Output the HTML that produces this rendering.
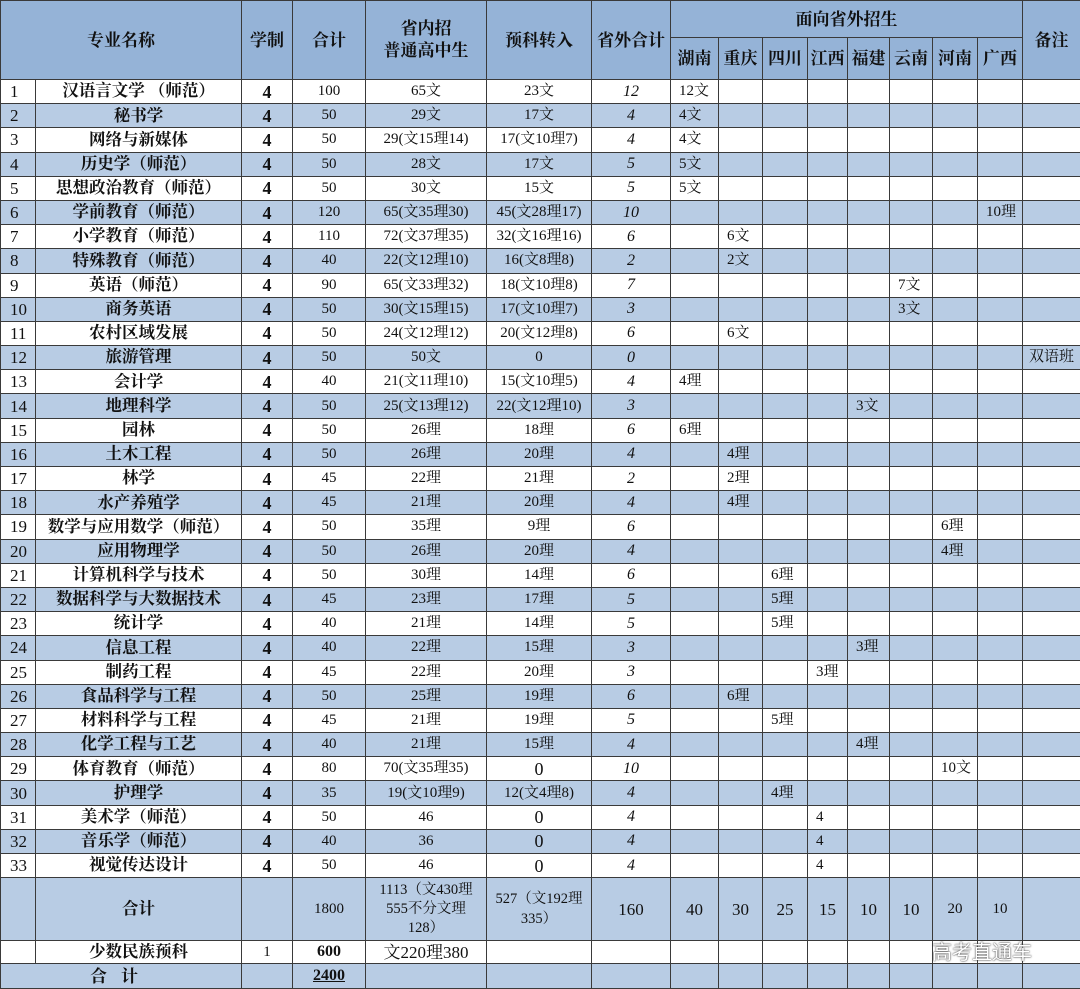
<!DOCTYPE html>
<html><head><meta charset="utf-8"><style>
html,body{margin:0;padding:0;background:#fff;}
body{width:1080px;height:988px;overflow:hidden;position:relative;font-family:"Liberation Serif","Noto Serif CJK SC",serif;}
table{border-collapse:collapse;table-layout:fixed;position:absolute;left:0;top:0;width:1080px;}
td{border:1px solid #3a3a3a;padding:0;font-size:15px;text-align:center;white-space:nowrap;overflow:hidden;color:#111;line-height:1;}
tr.h td{background:#95b3d7;font-weight:bold;font-size:17px;}
tr.b td{background:#b8cce4;}
tr.r{height:24.2px;}
td.n{font-weight:bold;font-size:16.5px;}
td.x{font-weight:bold;font-size:18px;}
td.i{font-style:italic;font-size:16px;}
td.l{text-align:left;padding-left:8px;}
td.k{text-align:left;padding-left:9px;font-size:17px;}
.wm{position:absolute;left:932px;top:936px;font-family:"Liberation Sans","Noto Sans CJK SC",sans-serif;font-size:20px;color:#fff;text-shadow:0 0 2px #555,0 0 1px #333;}
</style></head><body>
<table>
<colgroup>
<col style="width:35px"><col style="width:206px"><col style="width:51px"><col style="width:73px"><col style="width:121px"><col style="width:105px"><col style="width:79px"><col style="width:48px"><col style="width:44px"><col style="width:45px"><col style="width:40px"><col style="width:42px"><col style="width:43px"><col style="width:45px"><col style="width:45px"><col style="width:58px">
</colgroup>
<tr class="h" style="height:37px"><td colspan="2" rowspan="2">专业名称</td><td rowspan="2">学制</td><td rowspan="2">合计</td><td rowspan="2" style="line-height:1.3">省内招<br>普通高中生</td><td rowspan="2">预科转入</td><td rowspan="2">省外合计</td><td colspan="8">面向省外招生</td><td rowspan="2">备注</td></tr>
<tr class="h" style="height:42px"><td>湖南</td><td>重庆</td><td>四川</td><td>江西</td><td>福建</td><td>云南</td><td>河南</td><td>广西</td></tr>
<tr class="r"><td class="k">1</td><td class="n">汉语言文学 （师范）</td><td class="x">4</td><td>100</td><td>65文</td><td>23文</td><td class="i">12</td><td class="l">12文</td><td></td><td></td><td></td><td></td><td></td><td></td><td></td><td></td></tr>
<tr class="r b"><td class="k">2</td><td class="n">秘书学</td><td class="x">4</td><td>50</td><td>29文</td><td>17文</td><td class="i">4</td><td class="l">4文</td><td></td><td></td><td></td><td></td><td></td><td></td><td></td><td></td></tr>
<tr class="r"><td class="k">3</td><td class="n">网络与新媒体</td><td class="x">4</td><td>50</td><td>29(文15理14)</td><td>17(文10理7)</td><td class="i">4</td><td class="l">4文</td><td></td><td></td><td></td><td></td><td></td><td></td><td></td><td></td></tr>
<tr class="r b"><td class="k">4</td><td class="n">历史学（师范）</td><td class="x">4</td><td>50</td><td>28文</td><td>17文</td><td class="i">5</td><td class="l">5文</td><td></td><td></td><td></td><td></td><td></td><td></td><td></td><td></td></tr>
<tr class="r"><td class="k">5</td><td class="n">思想政治教育（师范）</td><td class="x">4</td><td>50</td><td>30文</td><td>15文</td><td class="i">5</td><td class="l">5文</td><td></td><td></td><td></td><td></td><td></td><td></td><td></td><td></td></tr>
<tr class="r b"><td class="k">6</td><td class="n">学前教育（师范）</td><td class="x">4</td><td>120</td><td>65(文35理30)</td><td>45(文28理17)</td><td class="i">10</td><td></td><td></td><td></td><td></td><td></td><td></td><td></td><td class="l">10理</td><td></td></tr>
<tr class="r"><td class="k">7</td><td class="n">小学教育（师范）</td><td class="x">4</td><td>110</td><td>72(文37理35)</td><td>32(文16理16)</td><td class="i">6</td><td></td><td class="l">6文</td><td></td><td></td><td></td><td></td><td></td><td></td><td></td></tr>
<tr class="r b"><td class="k">8</td><td class="n">特殊教育（师范）</td><td class="x">4</td><td>40</td><td>22(文12理10)</td><td>16(文8理8)</td><td class="i">2</td><td></td><td class="l">2文</td><td></td><td></td><td></td><td></td><td></td><td></td><td></td></tr>
<tr class="r"><td class="k">9</td><td class="n">英语（师范）</td><td class="x">4</td><td>90</td><td>65(文33理32)</td><td>18(文10理8)</td><td class="i">7</td><td></td><td></td><td></td><td></td><td></td><td class="l">7文</td><td></td><td></td><td></td></tr>
<tr class="r b"><td class="k">10</td><td class="n">商务英语</td><td class="x">4</td><td>50</td><td>30(文15理15)</td><td>17(文10理7)</td><td class="i">3</td><td></td><td></td><td></td><td></td><td></td><td class="l">3文</td><td></td><td></td><td></td></tr>
<tr class="r"><td class="k">11</td><td class="n">农村区域发展</td><td class="x">4</td><td>50</td><td>24(文12理12)</td><td>20(文12理8)</td><td class="i">6</td><td></td><td class="l">6文</td><td></td><td></td><td></td><td></td><td></td><td></td><td></td></tr>
<tr class="r b"><td class="k">12</td><td class="n">旅游管理</td><td class="x">4</td><td>50</td><td>50文</td><td>0</td><td class="i">0</td><td></td><td></td><td></td><td></td><td></td><td></td><td></td><td></td><td>双语班</td></tr>
<tr class="r"><td class="k">13</td><td class="n">会计学</td><td class="x">4</td><td>40</td><td>21(文11理10)</td><td>15(文10理5)</td><td class="i">4</td><td class="l">4理</td><td></td><td></td><td></td><td></td><td></td><td></td><td></td><td></td></tr>
<tr class="r b"><td class="k">14</td><td class="n">地理科学</td><td class="x">4</td><td>50</td><td>25(文13理12)</td><td>22(文12理10)</td><td class="i">3</td><td></td><td></td><td></td><td></td><td class="l">3文</td><td></td><td></td><td></td><td></td></tr>
<tr class="r"><td class="k">15</td><td class="n">园林</td><td class="x">4</td><td>50</td><td>26理</td><td>18理</td><td class="i">6</td><td class="l">6理</td><td></td><td></td><td></td><td></td><td></td><td></td><td></td><td></td></tr>
<tr class="r b"><td class="k">16</td><td class="n">土木工程</td><td class="x">4</td><td>50</td><td>26理</td><td>20理</td><td class="i">4</td><td></td><td class="l">4理</td><td></td><td></td><td></td><td></td><td></td><td></td><td></td></tr>
<tr class="r"><td class="k">17</td><td class="n">林学</td><td class="x">4</td><td>45</td><td>22理</td><td>21理</td><td class="i">2</td><td></td><td class="l">2理</td><td></td><td></td><td></td><td></td><td></td><td></td><td></td></tr>
<tr class="r b"><td class="k">18</td><td class="n">水产养殖学</td><td class="x">4</td><td>45</td><td>21理</td><td>20理</td><td class="i">4</td><td></td><td class="l">4理</td><td></td><td></td><td></td><td></td><td></td><td></td><td></td></tr>
<tr class="r"><td class="k">19</td><td class="n">数学与应用数学（师范）</td><td class="x">4</td><td>50</td><td>35理</td><td>9理</td><td class="i">6</td><td></td><td></td><td></td><td></td><td></td><td></td><td class="l">6理</td><td></td><td></td></tr>
<tr class="r b"><td class="k">20</td><td class="n">应用物理学</td><td class="x">4</td><td>50</td><td>26理</td><td>20理</td><td class="i">4</td><td></td><td></td><td></td><td></td><td></td><td></td><td class="l">4理</td><td></td><td></td></tr>
<tr class="r"><td class="k">21</td><td class="n">计算机科学与技术</td><td class="x">4</td><td>50</td><td>30理</td><td>14理</td><td class="i">6</td><td></td><td></td><td class="l">6理</td><td></td><td></td><td></td><td></td><td></td><td></td></tr>
<tr class="r b"><td class="k">22</td><td class="n">数据科学与大数据技术</td><td class="x">4</td><td>45</td><td>23理</td><td>17理</td><td class="i">5</td><td></td><td></td><td class="l">5理</td><td></td><td></td><td></td><td></td><td></td><td></td></tr>
<tr class="r"><td class="k">23</td><td class="n">统计学</td><td class="x">4</td><td>40</td><td>21理</td><td>14理</td><td class="i">5</td><td></td><td></td><td class="l">5理</td><td></td><td></td><td></td><td></td><td></td><td></td></tr>
<tr class="r b"><td class="k">24</td><td class="n">信息工程</td><td class="x">4</td><td>40</td><td>22理</td><td>15理</td><td class="i">3</td><td></td><td></td><td></td><td></td><td class="l">3理</td><td></td><td></td><td></td><td></td></tr>
<tr class="r"><td class="k">25</td><td class="n">制药工程</td><td class="x">4</td><td>45</td><td>22理</td><td>20理</td><td class="i">3</td><td></td><td></td><td></td><td class="l">3理</td><td></td><td></td><td></td><td></td><td></td></tr>
<tr class="r b"><td class="k">26</td><td class="n">食品科学与工程</td><td class="x">4</td><td>50</td><td>25理</td><td>19理</td><td class="i">6</td><td></td><td class="l">6理</td><td></td><td></td><td></td><td></td><td></td><td></td><td></td></tr>
<tr class="r"><td class="k">27</td><td class="n">材料科学与工程</td><td class="x">4</td><td>45</td><td>21理</td><td>19理</td><td class="i">5</td><td></td><td></td><td class="l">5理</td><td></td><td></td><td></td><td></td><td></td><td></td></tr>
<tr class="r b"><td class="k">28</td><td class="n">化学工程与工艺</td><td class="x">4</td><td>40</td><td>21理</td><td>15理</td><td class="i">4</td><td></td><td></td><td></td><td></td><td class="l">4理</td><td></td><td></td><td></td><td></td></tr>
<tr class="r"><td class="k">29</td><td class="n">体育教育（师范）</td><td class="x">4</td><td>80</td><td>70(文35理35)</td><td style="font-size:18px">0</td><td class="i">10</td><td></td><td></td><td></td><td></td><td></td><td></td><td class="l">10文</td><td></td><td></td></tr>
<tr class="r b"><td class="k">30</td><td class="n">护理学</td><td class="x">4</td><td>35</td><td>19(文10理9)</td><td>12(文4理8)</td><td class="i">4</td><td></td><td></td><td class="l">4理</td><td></td><td></td><td></td><td></td><td></td><td></td></tr>
<tr class="r"><td class="k">31</td><td class="n">美术学（师范）</td><td class="x">4</td><td>50</td><td>46</td><td style="font-size:18px">0</td><td class="i">4</td><td></td><td></td><td></td><td class="l">4</td><td></td><td></td><td></td><td></td><td></td></tr>
<tr class="r b"><td class="k">32</td><td class="n">音乐学（师范）</td><td class="x">4</td><td>40</td><td>36</td><td style="font-size:18px">0</td><td class="i">4</td><td></td><td></td><td></td><td class="l">4</td><td></td><td></td><td></td><td></td><td></td></tr>
<tr class="r"><td class="k">33</td><td class="n">视觉传达设计</td><td class="x">4</td><td>50</td><td>46</td><td style="font-size:18px">0</td><td class="i">4</td><td></td><td></td><td></td><td class="l">4</td><td></td><td></td><td></td><td></td><td></td></tr>
<tr class="b" style="height:63px"><td></td><td class="n">合计</td><td></td><td>1800</td><td style="line-height:1.3;font-size:14.5px">1113（文430理<br>555不分文理<br>128）</td><td style="line-height:1.4;font-size:14.5px">527（文192理<br>335）</td><td style="font-size:17px">160</td><td style="font-size:17px">40</td><td style="font-size:17px">30</td><td style="font-size:17px">25</td><td style="font-size:17px">15</td><td style="font-size:17px">10</td><td style="font-size:17px">10</td><td>20</td><td>10</td><td></td></tr>
<tr style="height:23px"><td></td><td class="n">少数民族预科</td><td>1</td><td style="font-weight:bold;font-size:16px">600</td><td style="font-size:17px">文220理380</td><td></td><td></td><td></td><td></td><td></td><td></td><td></td><td></td><td></td><td></td><td></td></tr>
<tr class="b" style="height:25px"><td colspan="2" class="n" style="letter-spacing:14px;font-size:17px">合计</td><td></td><td style="font-weight:bold;text-decoration:underline;font-size:16px">2400</td><td></td><td></td><td></td><td></td><td></td><td></td><td></td><td></td><td></td><td></td><td></td><td></td></tr>
</table>
<div class="wm">高考直通车</div>
</body></html>
